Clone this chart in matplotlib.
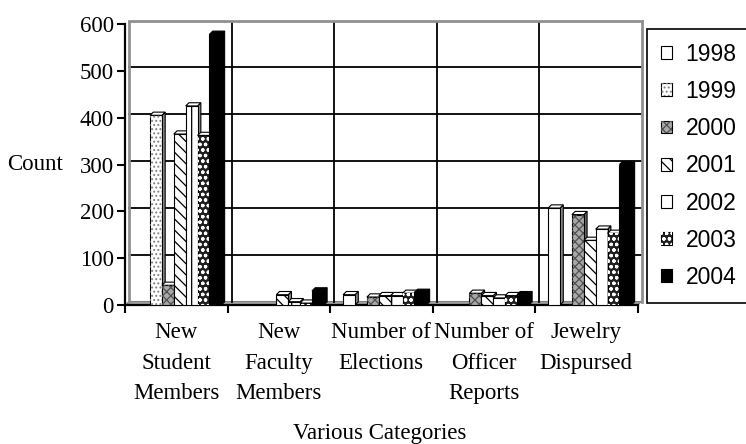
import matplotlib
matplotlib.use('Agg')
import matplotlib.pyplot as plt
from matplotlib.patches import Polygon, Patch

# data
categories = ['New\nStudent\nMembers', 'New\nFaculty\nMembers', 'Number of\nElections',
              'Number of\nOfficer\nReports', 'Jewelry\nDispursed']
years = ['1998', '1999', '2000', '2001', '2002', '2003', '2004']
v1998 = [0, 0, 22, 0, 207]
v1999 = [405, 0, 0, 0, 0]
v2000 = [42, 0, 17, 25, 193]
v2001 = [365, 22, 20, 20, 138]
v2002 = [425, 7, 20, 15, 162]
v2003 = [362, 4, 25, 20, 153]
v2004 = [578, 30, 27, 22, 300]
series = [v1998, v1999, v2000, v2001, v2002, v2003, v2004]

# face, side, hatch, hatch colour
styles = [
    ('white', '#8a8a8a', None, None),
    ('white', '#8a8a8a', '....', '#808080'),
    ('#a8a8a8', '#6a6a6a', 'xxxx', '#505050'),
    ('white', '#8a8a8a', '\\\\\\', 'black'),
    ('white', '#8a8a8a', '|', 'black'),
    ('#202020', '#202020', 'ooo', 'white'),
    ('black', 'black', None, None),
]

serif = 'Liberation Serif'
sans = 'Liberation Sans'
plt.rcParams['hatch.linewidth'] = 0.9

fig = plt.figure(figsize=(7.46, 4.44), dpi=100)
W, H = 746, 444
px_y = 600 / 281.0          # data units per pixel vertically
dy = 3.5 * px_y
dx = 4 / 102.5
ytop = 600 + dy
ax = fig.add_axes([125 / W, 1 - 305 / H, (512.5 + 4) / W, (281 + 3.5) / H])
ax.set_xlim(0, 5 + dx)
ax.set_ylim(0, ytop)

# back wall and floor
ax.add_patch(Polygon([(0, 0), (dx, dy), (5 + dx, dy), (5, 0)], closed=True,
                     facecolor='#a0a0a0', edgecolor='#808080', lw=0.8, zorder=1))
for v in range(100, 600, 100):
    ax.plot([dx, 5 + dx], [v + dy, v + dy], color='black', lw=1.3, zorder=1)
for k in range(1, 5):
    ax.plot([k + dx, k + dx], [dy, ytop], color='black', lw=1.3, zorder=1)
ax.plot([dx, 5 + dx], [ytop, ytop], color='#909090', lw=2, zorder=1, clip_on=False)
ax.plot([dx, dx], [dy, ytop], color='#909090', lw=2, zorder=1)
ax.plot([5 + dx, 5 + dx], [dy, ytop], color='#909090', lw=2, zorder=1, clip_on=False)

# 3d-ish bars
step = 0.116
bw = step
bdx = 0.032
bdy = 3.2 * px_y
for k, (vals, (face, side, hatch, hcol)) in enumerate(zip(series, styles)):
    xs = [i + 0.186 + k * step for i in range(len(categories))]
    z = 3 + k
    ax.bar(xs, vals, width=bw, color=face, edgecolor='black', lw=0.8, zorder=z)
    if hatch:
        ax.bar(xs, vals, width=bw, fill=False, hatch=hatch, edgecolor=hcol, lw=0, zorder=z + 0.1)
    for x, v in zip(xs, vals):
        if v <= 0:
            continue
        l, r = x - bw / 2, x + bw / 2
        ax.add_patch(Polygon([(r, 0), (r + bdx, bdy), (r + bdx, v + bdy), (r, v)], closed=True,
                             facecolor=side, edgecolor='black', lw=0.8, zorder=z - 0.5))
        ax.add_patch(Polygon([(l, v), (l + bdx, v + bdy), (r + bdx, v + bdy), (r, v)], closed=True,
                             facecolor='white' if face != 'black' else 'black',
                             edgecolor='black', lw=0.8, zorder=z - 0.5))

# axes
for s in ['top', 'right']:
    ax.spines[s].set_visible(False)
ax.spines['left'].set_linewidth(1.6)
ax.spines['bottom'].set_linewidth(1.6)
ax.spines['bottom'].set_bounds(0, 5)
ax.spines['left'].set_bounds(0, 600)
ax.set_yticks(range(0, 700, 100))
ax.set_xticks(range(6))
ax.set_xticklabels([])
ax.tick_params(axis='y', length=6, width=1.5, pad=2, labelsize=16.5)
ax.tick_params(axis='x', length=6, width=1.5)
for t in ax.get_yticklabels():
    t.set_fontfamily(serif)

for i, c in enumerate(categories):
    ax.text(i + 0.5, -(322 - 305) * px_y, c, ha='center', va='top', fontsize=16.5,
            family=serif, linespacing=1.6)

fig.text(35 / W, 1 - 164 / H, 'Count', ha='center', va='center', fontsize=16.5, family=serif)
fig.text(380 / W, 1 - 433 / H, 'Various Categories', ha='center', va='center',
         fontsize=16.5, family=serif)

# legend
handles = []
for face, side, hatch, hcol in styles:
    base = Patch(facecolor=face, edgecolor='black', lw=0.8)
    if hatch:
        handles.append((base, Patch(fill=False, hatch=hatch, edgecolor=hcol, lw=0)))
    else:
        handles.append(base)
leg = fig.legend(handles, years, loc='upper left', bbox_to_anchor=(647 / W, 1 - 29 / H),
                 prop={'family': sans, 'size': 16.5}, handlelength=0.48, handleheight=0.48,
                 handletextpad=0.6, labelspacing=0.62, borderpad=0.6, borderaxespad=0,
                 fancybox=False, framealpha=1, edgecolor='black')
leg.get_frame().set_linewidth(1.2)

fig.savefig('out.png', dpi=100)
